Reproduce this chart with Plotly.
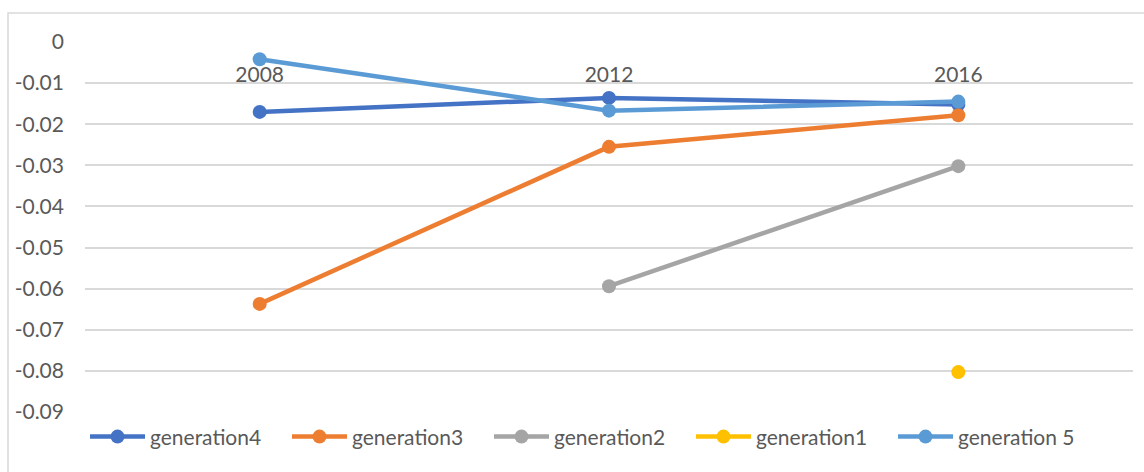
import plotly.graph_objects as go

years = ["2008", "2012", "2016"]

generation4 = [-0.0170, -0.0136, -0.0152]
generation3 = [-0.0637, -0.0255, -0.0178]
generation2 = [None, -0.0594, -0.0302]
generation1 = [None, None, -0.0803]
generation5 = [-0.0042, -0.0167, -0.0145]

series_names = ["generation4", "generation3", "generation2", "generation1", "generation 5"]
series_values = [generation4, generation3, generation2, generation1, generation5]
series_colors = ["#4472C4", "#ED7D31", "#A5A5A5", "#FFC000", "#5B9BD5"]

y_ticks = [0, -0.01, -0.02, -0.03, -0.04, -0.05, -0.06, -0.07, -0.08, -0.09]

FONT = "Lato, Carlito, Calibri, sans-serif"
TEXT = "#595959"
FS = 21

fig = go.Figure()
for name, vals, color in zip(series_names, series_values, series_colors):
    fig.add_trace(go.Scatter(
        x=years, y=vals, name=name, mode="lines+markers",
        line=dict(color=color, width=4.5),
        marker=dict(color=color, size=14),
        connectgaps=False,
    ))

W, H = 1144, 472
ML, MR, MT, MB = 85, 11, 42, 60
pw, ph = W - ML - MR, H - MT - MB

fig.update_layout(
    width=W, height=H,
    margin=dict(l=ML, r=MR, t=MT, b=MB, autoexpand=False),
    paper_bgcolor="white", plot_bgcolor="white",
    font=dict(family=FONT, size=FS, color=TEXT),
    showlegend=True,
    legend=dict(
        orientation="h", x=0.0, xanchor="left", y=-0.012, yanchor="top",
        itemwidth=55,
        entrywidth=132, entrywidthmode="pixels",
        font=dict(family=FONT, size=FS, color=TEXT),
        bgcolor="rgba(0,0,0,0)", itemclick=False,
    ),
    xaxis=dict(
        type="category", categoryorder="array", categoryarray=years,
        anchor="free", position=1, side="bottom",
        showline=False, showgrid=False, zeroline=False,
        ticks="", ticklabelstandoff=18,
        tickfont=dict(family=FONT, size=FS, color=TEXT),
        range=[-0.5, 2.5],
    ),
    yaxis=dict(
        range=[-0.09, 0], tickvals=y_ticks, ticktext=[f"{v:g}" for v in y_ticks],
        showgrid=True, gridcolor="#D9D9D9", gridwidth=1.5,
        zeroline=False, showline=False, ticks="",
        ticklabelstandoff=20,
        tickfont=dict(family=FONT, size=FS, color=TEXT),
    ),
)

# chart-area frame
fig.add_shape(
    type="rect", xref="paper", yref="paper",
    x0=(8 - ML) / pw, x1=1.2, y0=-0.5, y1=1 + (MT - 13) / ph,
    line=dict(color="#D9D9D9", width=1.5), fillcolor="rgba(0,0,0,0)", layer="below",
)

fig.write_html("out.html")
